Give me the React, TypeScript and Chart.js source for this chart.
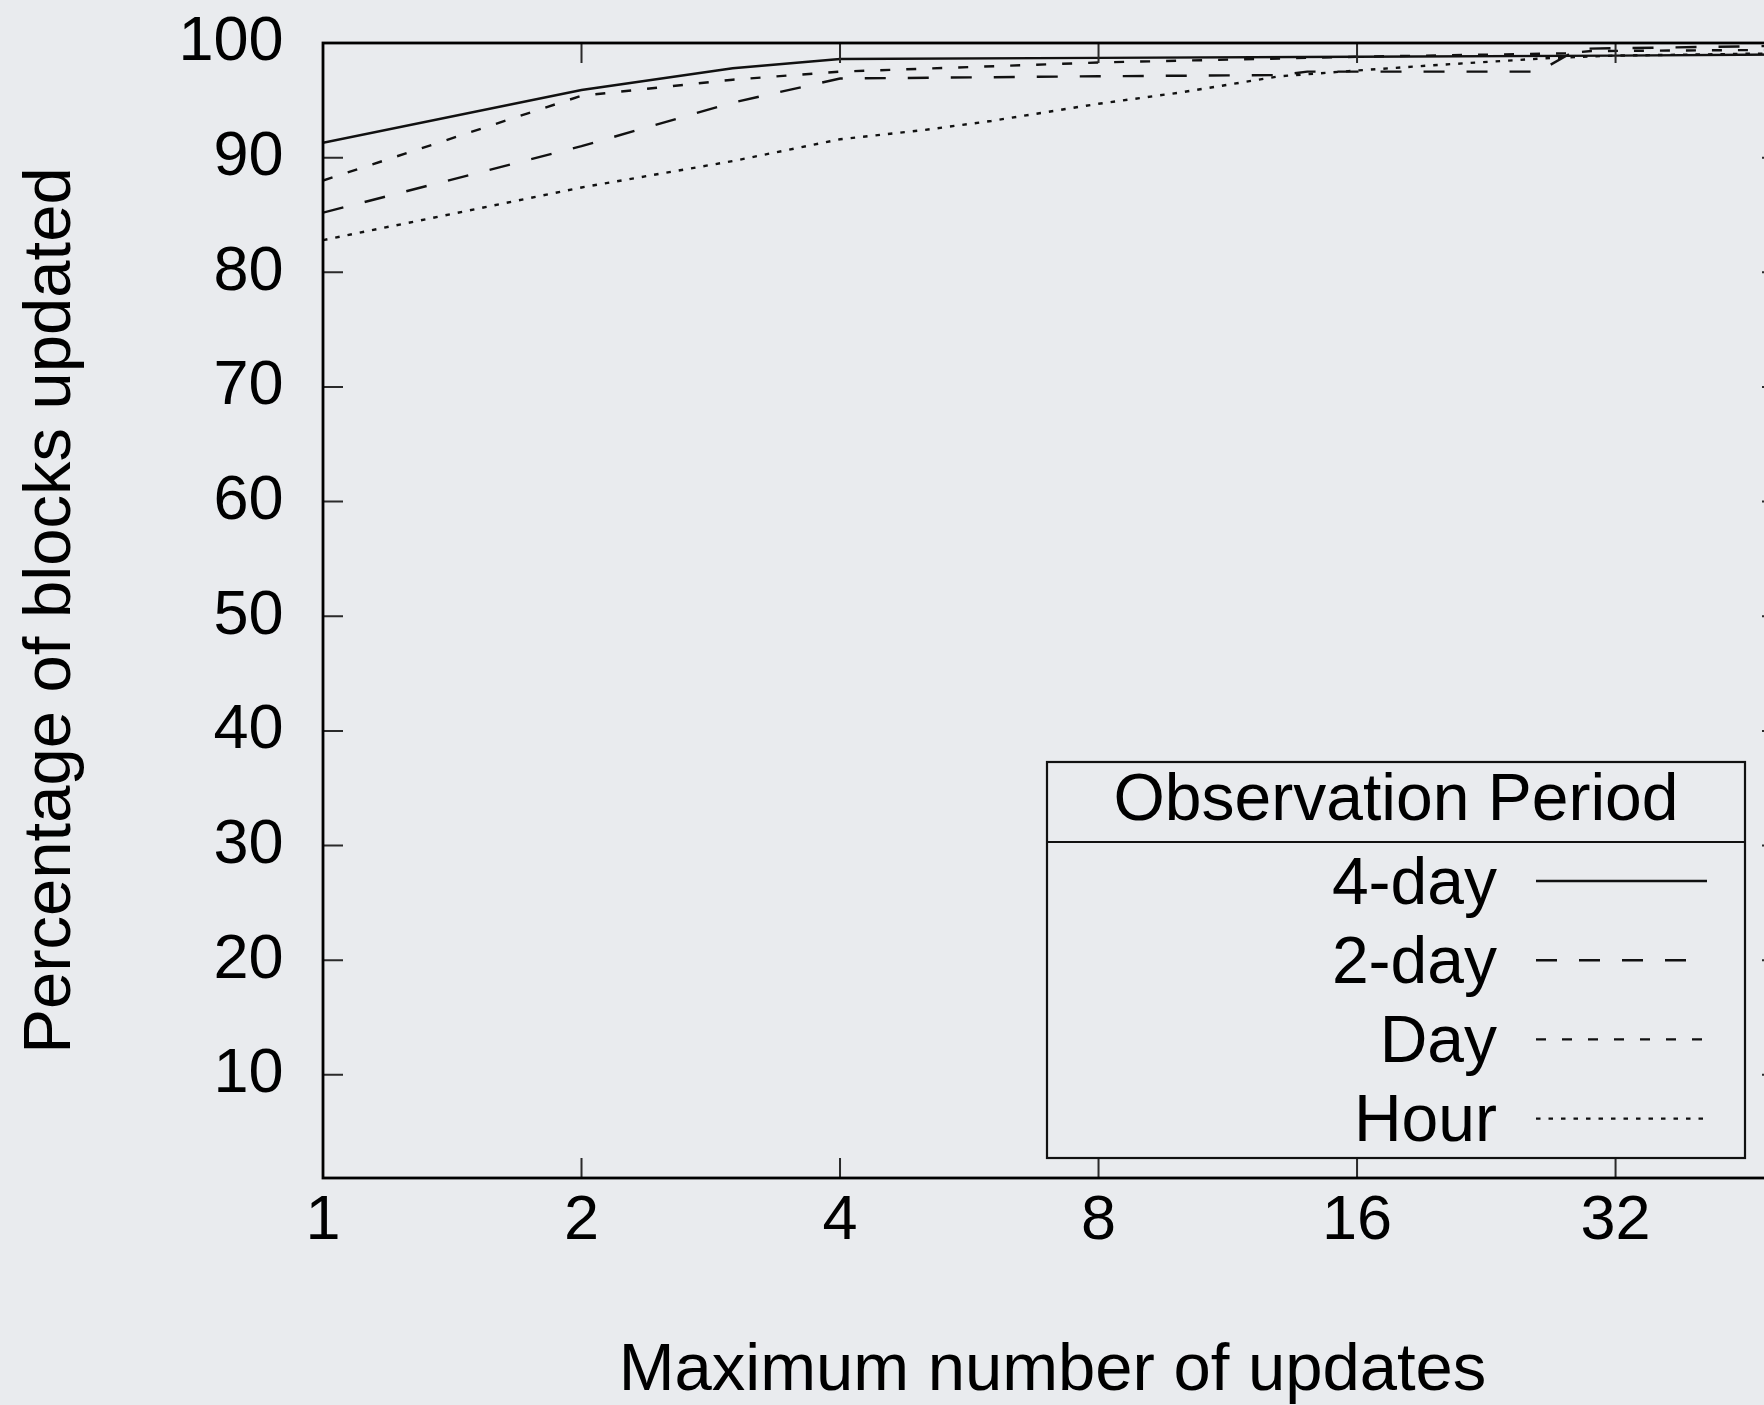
import React, { useEffect, useRef } from 'react';
import { Chart, registerables } from 'chart.js';

Chart.register(...registerables);

const FONT = '"Liberation Sans", Arial, Helvetica, sans-serif';
const BG = '#e9ebee';
const INK = '#111111';

// Axis ticks
const X_TICKS = [1, 2, 4, 8, 16, 32];
const Y_TICKS = [10, 20, 30, 40, 50, 60, 70, 80, 90, 100];

// Observation periods
const SERIES_LABELS = ['4-day', '2-day', 'Day', 'Hour'];

// 4-day observation period
const fourDayX = [1, 2, 3, 4, 8, 16, 32, 50];
const fourDayY = [91.3, 95.9, 97.8, 98.6, 98.7, 98.8, 98.9, 99.0];

// 2-day observation period
const twoDayX = [1, 2, 3, 4, 8, 13, 14, 26, 29, 50];
const twoDayY = [85.2, 91.0, 94.8, 96.9, 97.1, 97.2, 97.5, 97.5, 99.5, 99.75];

// 1-day observation period
const dayX = [1, 2, 3, 4, 8, 16, 28, 30, 50];
const dayY = [88.0, 95.4, 96.8, 97.5, 98.3, 98.8, 99.1, 99.3, 99.4];

// 1-hour observation period
const hourX = [1, 2, 3, 4, 5, 6, 8, 10, 13, 16, 20, 27, 32, 50];
const hourY = [82.8, 87.4, 89.7, 91.6, 92.4, 93.2, 94.7, 95.7, 97.1, 97.6, 98.1, 98.7, 98.9, 99.1];

const DASHES: number[][] = [[], [21, 22], [10, 16], [4.5, 8]];

const toPoints = (xs: number[], ys: number[]) => xs.map((x, i) => ({ x, y: ys[i] }));

// gnuplot-style frame with inward ticks on all four sides
const framePlugin = {
  id: 'frame',
  afterDatasetsDraw(chart: any) {
    const { ctx, chartArea: a, scales } = chart;
    const sx = scales.x;
    const sy = scales.y;
    const len = 20;
    ctx.save();
    ctx.strokeStyle = '#2a2a2a';
    ctx.lineWidth = 2;
    ctx.beginPath();
    for (const v of X_TICKS) {
      const px = sx.getPixelForValue(v);
      if (px <= a.left + 1 || px >= a.right - 1) continue;
      ctx.moveTo(px, a.bottom);
      ctx.lineTo(px, a.bottom - len);
      ctx.moveTo(px, a.top);
      ctx.lineTo(px, a.top + len);
    }
    for (const v of Y_TICKS) {
      const py = sy.getPixelForValue(v);
      if (py <= a.top + 1 || py >= a.bottom - 1) continue;
      ctx.moveTo(a.left, py);
      ctx.lineTo(a.left + len, py);
      ctx.moveTo(a.right, py);
      ctx.lineTo(a.right - len, py);
    }
    ctx.stroke();
    ctx.strokeStyle = '#000';
    ctx.lineWidth = 2.8;
    ctx.strokeRect(a.left, a.top, a.right - a.left, a.bottom - a.top);
    ctx.restore();
  },
};

// Boxed key with a title row, labels right-aligned next to line samples
const keyPlugin = {
  id: 'keyBox',
  afterDraw(chart: any) {
    const { ctx, chartArea: a } = chart;
    const left = a.right - 735;
    const right = a.right - 37;
    const top = a.bottom - 416;
    const bottom = a.bottom - 20;
    ctx.save();
    ctx.strokeStyle = INK;
    ctx.lineWidth = 2.2;
    ctx.setLineDash([]);
    ctx.strokeRect(left, top, right - left, bottom - top);
    ctx.beginPath();
    ctx.moveTo(left, top + 80);
    ctx.lineTo(right, top + 80);
    ctx.stroke();

    ctx.fillStyle = '#000';
    ctx.font = `66px ${FONT}`;
    ctx.textAlign = 'center';
    ctx.textBaseline = 'alphabetic';
    ctx.fillText('Observation Period', (left + right) / 2, top + 58);

    chart.data.datasets.forEach((ds: any, i: number) => {
      const rowY = top + 119 + i * 79.2;
      ctx.textAlign = 'right';
      ctx.fillText(ds.label, left + 450, rowY + 22.6);
      ctx.strokeStyle = ds.borderColor;
      ctx.lineWidth = ds.borderWidth;
      ctx.setLineDash(ds.borderDash || []);
      ctx.beginPath();
      ctx.moveTo(left + 489, rowY);
      ctx.lineTo(left + 660, rowY);
      ctx.stroke();
    });
    ctx.restore();
  },
};

export default function App() {
  const canvasRef = useRef<HTMLCanvasElement | null>(null);

  useEffect(() => {
    const canvas = canvasRef.current;
    if (!canvas) return;

    const seriesX = [fourDayX, twoDayX, dayX, hourX];
    const seriesY = [fourDayY, twoDayY, dayY, hourY];

    const chart = new Chart(canvas, {
      type: 'line',
      data: {
        datasets: SERIES_LABELS.map((label, i) => ({
          label,
          data: toPoints(seriesX[i], seriesY[i]),
          borderColor: INK,
          borderWidth: 2.4,
          borderDash: DASHES[i],
          pointRadius: 0,
          tension: 0,
          fill: false,
        })),
      },
      options: {
        animation: false,
        responsive: false,
        devicePixelRatio: 1,
        layout: { padding: { top: 43, right: 18, left: 0, bottom: 0 } },
        plugins: {
          legend: { display: false },
          tooltip: { enabled: false },
        },
        scales: {
          x: {
            type: 'logarithmic',
            min: 1,
            max: 50,
            afterBuildTicks: (s: any) => {
              s.ticks = X_TICKS.map((value) => ({ value }));
            },
            afterFit: (s: any) => {
              s.height = 227;
              s.paddingLeft = 0;
              s.paddingRight = 0;
            },
            grid: { display: false, drawTicks: false },
            border: { display: false },
            ticks: {
              autoSkip: false,
              maxRotation: 0,
              padding: 12,
              color: '#000',
              font: { family: FONT, size: 63, lineHeight: 1 },
              callback: (v: any) => String(v),
            },
            title: {
              display: true,
              text: 'Maximum number of updates',
              color: '#000',
              font: { family: FONT, size: 67, lineHeight: 1 },
              padding: { top: 0, bottom: 0 },
            },
          },
          y: {
            type: 'linear',
            min: 1,
            max: 100,
            afterBuildTicks: (s: any) => {
              s.ticks = Y_TICKS.map((value) => ({ value }));
            },
            afterFit: (s: any) => {
              s.width = 323;
              s.paddingTop = 0;
              s.paddingBottom = 0;
            },
            grid: { display: false, drawTicks: false },
            border: { display: false },
            ticks: {
              padding: 39.5,
              color: '#000',
              font: { family: FONT, size: 63, lineHeight: 1 },
              callback: (v: any) => String(v),
            },
            title: {
              display: true,
              text: 'Percentage of blocks updated',
              color: '#000',
              font: { family: FONT, size: 67, lineHeight: 1 },
              padding: { top: 18.5, bottom: 0 },
            },
          },
        },
      },
      plugins: [framePlugin, keyPlugin],
    } as any);

    return () => chart.destroy();
  }, []);

  return (
    <div
      style={{
        position: 'fixed',
        left: 0,
        top: 0,
        width: '100vw',
        height: '100vh',
        overflow: 'hidden',
        background: BG,
      }}
    >
      <canvas
        ref={canvasRef}
        width={1800}
        height={1405}
        style={{ display: 'block', width: 1800, height: 1405 }}
      />
    </div>
  );
}
